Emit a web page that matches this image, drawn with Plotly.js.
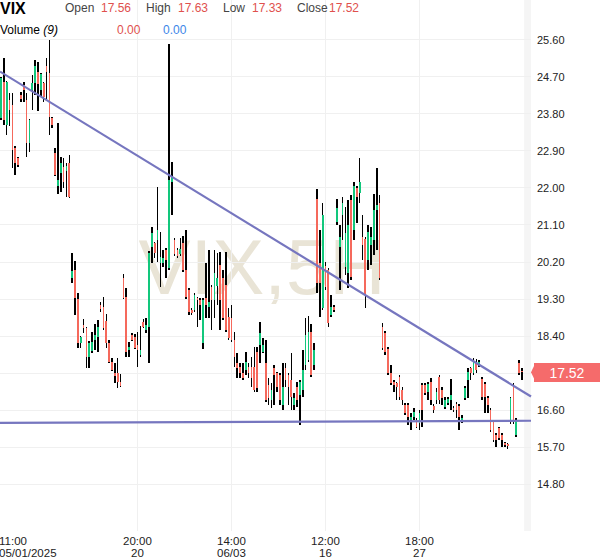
<!DOCTYPE html>
<html><head><meta charset="utf-8">
<script src="https://cdn.plot.ly/plotly-3.0.1.min.js"></script>
<style>html,body{margin:0;padding:0;background:#fff}#chart{width:600px;height:558px}</style>
</head><body><div id="chart"></div>
<script>
const symbol = 'VIX';
const timeframe = '5H';
const openP = [23.70,24.58,23.53,24.14,24.02,22.97,22.73,24.26,24.51,24.14,23.09,24.38,24.55,24.82,24.38,24.55,24.97,24.80,23.70,22.85,
22.05,22.36,22.51,22.41,22.61,19.81,20.01,19.30,18.23,18.67,18.59,17.89,18.04,18.30,18.38,19.15,19.11,18.76,18.23,17.77,
17.50,17.50,17.28,19.81,19.35,18.06,18.42,18.38,18.18,17.94,18.74,18.55,18.62,20.56,20.66,20.74,20.18,20.18,20.49,20.05,
22.15,20.73,20.49,20.39,20.66,20.01,19.52,19.03,19.03,19.32,19.28,18.23,19.32,19.11,19.59,19.28,19.62,20.13,19.81,19.64,
18.86,18.84,18.30,17.74,17.65,17.50,17.57,17.65,17.65,17.65,18.01,18.18,18.01,17.74,17.21,16.84,17.62,17.50,17.45,16.72,
17.62,17.45,17.33,16.72,17.16,16.96,17.09,17.70,17.82,18.50,17.70,21.73,20.18,19.08,20.10,20.01,18.91,19.11,21.17,20.56,
21.34,20.08,19.93,21.71,20.98,22.00,21.88,20.81,20.76,20.25,20.61,20.74,21.46,21.64,18.62,18.47,18.08,17.50,17.28,17.26,
17.40,17.09,16.72,16.72,16.36,16.43,16.36,16.28,17.21,17.21,17.04,17.28,16.70,16.84,17.40,17.09,16.67,16.77,16.84,16.65,
16.75,16.70,16.31,16.89,17.33,17.62,17.50,17.77,17.70,17.35,17.23,16.89,16.60,16.31,15.99,16.16,15.99,15.80,15.77,16.31,
17.21,15.99,17.74,17.56];
const highP = [24.70,25.16,24.60,24.31,24.31,23.02,22.75,24.33,24.58,24.31,23.68,24.75,25.11,25.06,24.80,24.58,25.16,25.60,23.73,22.97,
23.58,22.75,22.73,22.61,22.80,20.42,20.22,19.45,18.40,18.81,18.62,18.28,18.50,18.69,18.79,19.23,19.35,18.94,18.30,17.86,
17.74,17.86,17.48,19.91,19.57,18.25,18.47,18.45,18.50,18.64,18.81,18.84,20.47,21.05,20.69,22.02,20.93,20.49,20.54,25.50,
22.63,20.78,20.54,20.78,20.83,20.98,19.57,19.08,19.45,19.35,19.32,19.32,20.18,20.49,19.64,20.49,20.42,20.44,20.01,20.44,
19.08,19.15,18.50,17.99,17.74,17.74,18.01,17.74,17.89,18.13,18.13,18.74,18.35,18.30,17.38,17.26,17.70,17.52,17.50,17.74,
17.74,17.50,17.99,17.01,17.28,17.33,18.06,18.84,18.89,18.69,18.23,21.98,20.98,21.63,20.20,20.05,19.40,19.15,21.73,21.10,
21.78,21.54,21.71,21.83,22.14,22.05,22.73,21.34,20.81,21.10,21.05,21.85,22.49,21.83,18.72,18.52,18.13,17.70,17.33,17.28,
17.45,17.16,16.77,16.77,16.53,16.65,16.41,16.60,17.26,17.26,17.28,17.38,16.75,17.14,17.45,17.16,16.92,16.92,17.35,16.70,
16.79,16.75,16.48,17.18,17.62,17.65,17.86,17.84,17.82,17.40,17.28,16.94,16.65,16.36,16.04,16.19,16.04,15.82,15.80,16.92,
17.26,16.41,17.82,17.63];
const lowP = [23.65,23.53,23.29,23.51,22.49,22.32,22.51,24.09,24.09,22.75,22.88,23.90,24.26,23.87,24.21,24.09,24.14,23.29,23.46,22.29,
21.85,21.90,22.00,21.78,21.76,19.69,18.91,18.11,18.11,18.47,17.62,17.62,17.99,18.06,18.01,18.98,18.55,18.11,17.74,17.55,
17.26,17.14,17.16,19.30,17.89,17.89,18.28,18.08,17.65,17.89,18.59,18.47,17.74,20.18,20.30,20.20,19.59,20.08,19.81,20.01,
21.34,20.34,20.30,20.34,19.96,19.30,18.91,18.91,18.98,18.62,18.79,18.08,18.84,18.84,18.55,18.84,19.15,18.55,18.79,18.50,
18.30,18.25,17.65,17.38,17.38,17.33,17.45,17.38,17.16,17.04,17.04,17.74,17.99,16.79,16.72,16.65,16.72,17.04,16.72,16.60,
17.16,16.72,16.60,16.60,16.67,16.23,16.92,17.57,17.77,17.40,17.57,19.45,18.86,19.03,19.52,18.62,18.86,18.98,21.10,19.52,
20.74,19.88,19.57,19.76,20.74,21.15,21.64,20.25,19.08,20.01,20.13,20.37,20.49,19.76,18.06,17.94,17.45,17.21,17.04,16.84,
16.84,16.72,16.48,16.23,16.11,16.36,16.16,16.11,16.19,16.96,16.84,16.72,16.53,16.75,16.75,16.72,16.62,16.72,16.60,16.55,
16.41,16.11,16.28,16.84,16.89,17.33,17.45,17.50,17.65,16.84,16.53,16.53,16.06,15.82,15.70,15.87,15.70,15.70,15.65,16.26,
16.26,15.94,17.45,17.33];
const closeP = [24.68,23.65,24.58,23.90,22.92,22.61,22.56,24.16,24.38,23.09,23.65,24.55,24.97,24.53,24.77,24.21,24.82,23.73,23.53,22.32,
22.19,22.61,22.15,22.54,21.78,19.98,19.32,18.23,18.38,18.59,17.89,18.23,18.25,18.42,18.62,19.06,18.59,18.23,17.77,17.57,
17.43,17.28,17.18,19.32,18.01,18.13,18.30,18.11,18.06,18.06,18.62,18.67,20.42,20.91,20.42,20.98,20.32,20.30,20.25,22.19,
22.27,20.39,20.34,20.51,20.01,19.35,18.98,18.96,19.40,19.28,19.15,19.28,19.15,19.23,19.28,19.93,19.81,19.28,18.84,18.55,
18.35,18.30,17.89,17.62,17.50,17.38,17.77,17.50,17.38,17.09,17.14,18.47,18.18,16.84,16.89,17.09,17.45,17.16,16.84,17.16,
17.33,17.16,16.92,16.89,16.84,17.28,17.57,18.42,18.50,17.45,18.06,19.69,19.69,21.34,19.59,18.72,19.11,19.03,21.51,20.81,
21.63,20.91,21.10,19.84,22.05,21.78,22.15,20.61,19.40,20.93,20.81,21.46,21.59,19.81,18.11,18.01,17.50,17.26,17.21,17.16,
16.92,16.84,16.53,16.43,16.43,16.55,16.19,16.53,16.60,17.01,17.23,16.84,16.60,17.04,16.84,16.89,16.84,16.87,16.96,16.60,
16.60,16.43,16.41,17.14,17.52,17.50,17.79,17.57,17.77,16.92,16.92,16.72,16.11,15.87,15.87,15.92,15.87,15.75,15.72,16.89,
16.31,16.36,17.50,17.52];

const tickIndex = [48, 81, 114, 147];
const tickTime = ['20:00', '14:00', '12:00', '18:00'];
const tickDate = ['20', '06/03', '16', '27'];
const firstTime = '11:00';
const firstDate = '05/01/2025';
const priceTicks = [14.8, 15.7, 16.6, 17.5, 18.4, 19.3, 20.2, 21.1, 22.0, 22.9, 23.8, 24.7, 25.6];
const hdrOpen = 17.56, hdrHigh = 17.63, hdrLow = 17.33, hdrClose = 17.52;
const volumeLen = 9, volA = 0.00, volB = 0.00;
const trendLine = [24.83, 16.93];
const supportLine = [16.29, 16.34];

const idx = openP.map((_, i) => i);
const up = openP.map((o, i) => closeP[i] >= o);
const GREEN = '#12c77c', RED = '#f5695c';

const wick = {
  type: 'bar', x: idx, base: lowP, y: highP.map((h, i) => h - lowP[i]),
  width: 0.55, marker: {color: '#000', line: {width: 0}}, hoverinfo: 'skip', showlegend: false
};
const body = {
  type: 'bar', x: idx, base: openP.map((o, i) => Math.min(o, closeP[i])),
  y: openP.map((o, i) => Math.max(Math.abs(closeP[i] - o), 0.02)),
  width: 0.6, marker: {color: up.map(u => u ? GREEN : RED), line: {width: 0}},
  hoverinfo: 'skip', showlegend: false
};

const F = 'Arial, "Liberation Sans", sans-serif';
const ann = [];
function hdr(text, px, py, color, size, bold) {
  ann.push({xref: 'paper', yref: 'paper', x: 0, y: 1, xanchor: 'left', yanchor: 'middle',
    xshift: px - 1, yshift: -py, text: text, showarrow: false, borderpad: 0,
    font: {family: F, size: size, color: color, weight: bold ? 700 : 400}});
}
hdr(symbol, 0, 8, '#000', 16, true);
hdr('Open', 65, 8, '#444', 12); hdr(hdrOpen.toFixed(2), 101, 8, '#e0504d', 12);
hdr('High', 146, 8, '#444', 12); hdr(hdrHigh.toFixed(2), 178, 8, '#e0504d', 12);
hdr('Low', 223, 8, '#444', 12); hdr(hdrLow.toFixed(2), 252, 8, '#e0504d', 12);
hdr('Close', 297, 8, '#444', 12); hdr(hdrClose.toFixed(2), 329, 8, '#e0504d', 12);
hdr('Volume <i>(' + volumeLen + ')</i>', 0, 30, '#000', 12);
hdr(volA.toFixed(2), 117, 30, '#e0504d', 12);
hdr(volB.toFixed(2), 163, 30, '#3d86e8', 12);

// x tick labels (two tight lines)
const xlf = {family: F, size: 11.5, color: '#222'};
ann.push({xref: 'paper', yref: 'paper', x: 0, y: 0, xanchor: 'left', yanchor: 'middle', xshift: -1, yshift: -9.5,
  text: firstTime, showarrow: false, borderpad: 0, borderwidth: 0, font: xlf});
ann.push({xref: 'paper', yref: 'paper', x: 0, y: 0, xanchor: 'left', yanchor: 'middle', xshift: -1, yshift: -21.5,
  text: firstDate, showarrow: false, borderpad: 0, borderwidth: 0, font: xlf});
tickIndex.forEach((t, k) => {
  ann.push({xref: 'x', yref: 'paper', x: t, y: 0, xanchor: 'center', yanchor: 'middle', yshift: -9.5,
    text: tickTime[k], showarrow: false, borderpad: 0, borderwidth: 0, font: xlf});
  ann.push({xref: 'x', yref: 'paper', x: t, y: 0, xanchor: 'center', yanchor: 'middle', yshift: -21.5,
    text: tickDate[k], showarrow: false, borderpad: 0, borderwidth: 0, font: xlf});
});
// last price tag
ann.push({xref: 'paper', yref: 'y', x: 1, y: hdrClose, xanchor: 'left', yanchor: 'middle', xshift: 3,
  text: hdrClose.toFixed(2), showarrow: false, bgcolor: '#f56b6b', borderpad: 3, borderwidth: 0,
  width: 60, height: 13, align: 'center', font: {family: F, size: 14, color: '#fff'}});

const shapes = [
  {type: 'rect', xref: 'paper', yref: 'paper', x0: 0.987, x1: 1, y0: 0, y1: 1, fillcolor: '#f5f5f5', line: {width: 0}, layer: 'below'},
  {type: 'rect', xref: 'paper', yref: 'paper', x0: 0.25, x1: 0.737, y0: 0.44, y1: 0.58, fillcolor: 'rgba(0,0,0,0)', line: {width: 0}, layer: 'below',
   label: {text: symbol + ',' + timeframe, textposition: 'middle center',
     font: {family: F, size: 78, color: '#e9e4d6'}}},
  {type: 'line', xref: 'paper', yref: 'y', x0: 0, x1: 1, y0: trendLine[0], y1: trendLine[1], line: {color: '#7676bf', width: 2.2}},
  {type: 'line', xref: 'paper', yref: 'y', x0: 0, x1: 1, y0: supportLine[0], y1: supportLine[1], line: {color: '#7676bf', width: 2.2}},
  {type: 'path', xref: 'paper', yref: 'y', path: 'M 1.0 ' + hdrClose + ' L 1.0075 ' + (hdrClose + 0.2) + ' L 1.0075 ' + (hdrClose - 0.2) + ' Z',
   fillcolor: '#f56b6b', line: {width: 0}}
];

// the 17.50 label sits under the last-price tag in the reference
const tickText = priceTicks.map(v => Math.abs(v - hdrClose) < 0.2 ? '' : v.toFixed(2));

const layout = {
  width: 600, height: 558,
  margin: {l: 0, r: 69, t: 0, b: 27, pad: 0},
  paper_bgcolor: '#fff', plot_bgcolor: '#fff',
  barmode: 'overlay', bargap: 0,
  showlegend: false, hovermode: false,
  xaxis: {range: [-0.35, 186.2], tickvals: tickIndex, showticklabels: false, ticks: '',
    showgrid: true, gridcolor: '#f0f0f0', gridwidth: 1, zeroline: false, showline: false, fixedrange: true},
  yaxis: {side: 'right', range: [13.66, 26.57], tickvals: priceTicks, ticktext: tickText,
    ticks: '', ticklabelstandoff: 5, showgrid: true, gridcolor: '#f0f0f0', gridwidth: 1,
    zeroline: false, showline: false, tickfont: {family: F, size: 11, color: '#222'}, fixedrange: true},
  annotations: ann,
  shapes: shapes
};
Plotly.newPlot('chart', [wick, body], layout, {displayModeBar: false, staticPlot: true});
</script>
</body></html>
